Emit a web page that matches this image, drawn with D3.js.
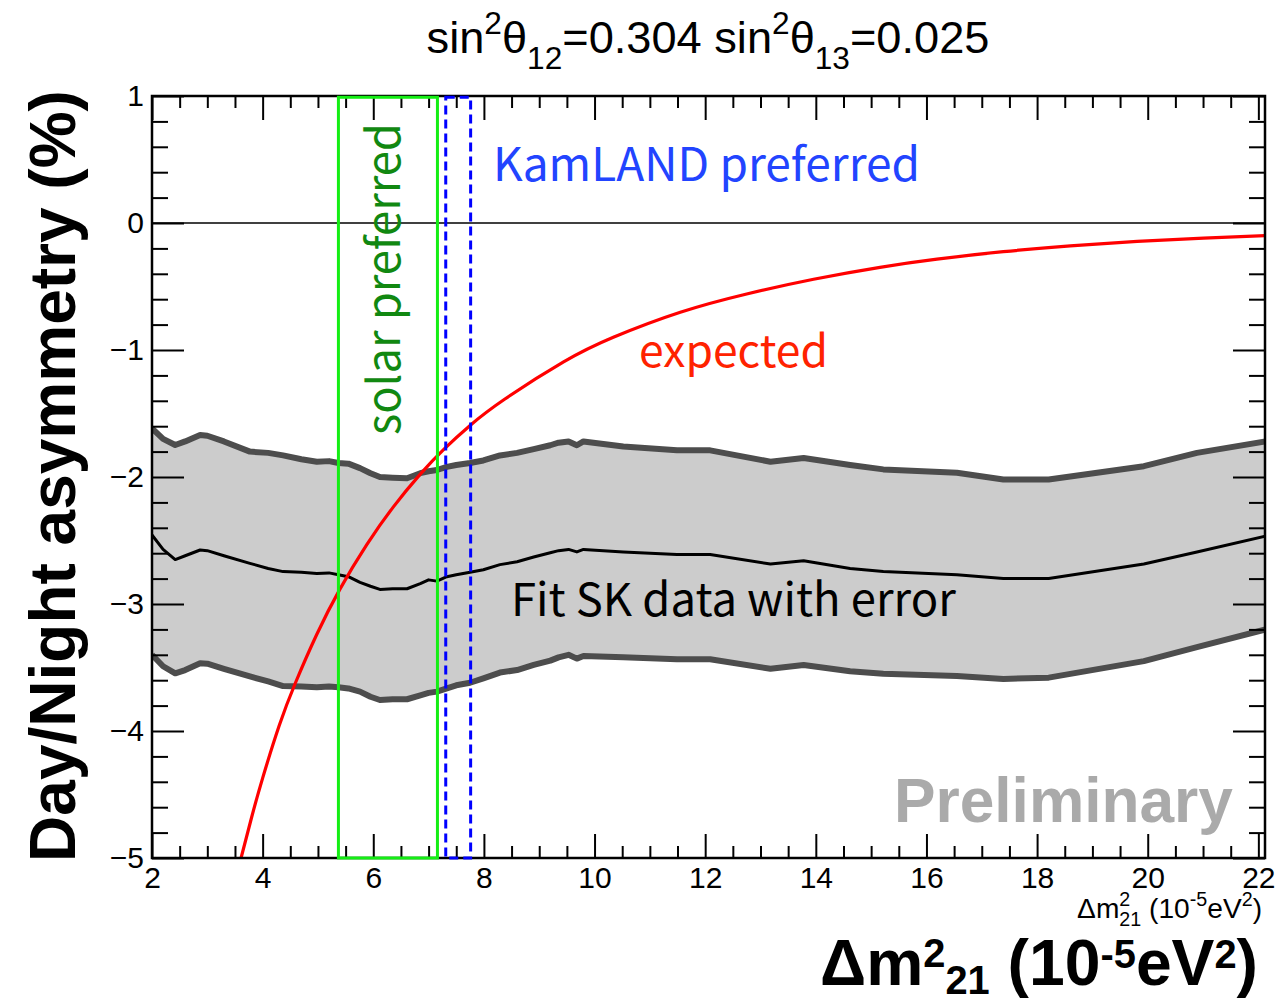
<!DOCTYPE html>
<html>
<head>
<meta charset="utf-8">
<script src="https://cdn.jsdelivr.net/npm/d3@7/dist/d3.min.js"></script>
<style>
  html, body { margin: 0; padding: 0; background: #fff; }
  svg { display: block; }
</style>
</head>
<body>
<svg id="chart" width="1283" height="1002"></svg>
<script>
// Δm²21 grid (10^-5 eV²) for the SK fitted day/night asymmetry band
const dm2 = [2.0, 2.2, 2.42, 2.6, 2.87, 3.0, 3.3, 3.77, 4.1, 4.37, 4.7, 4.98, 5.2, 5.37, 5.55, 5.76, 5.95,
  6.12, 6.35, 6.61, 6.85, 7.0, 7.15, 7.33, 7.5, 7.75, 7.99, 8.29, 8.6, 8.9, 9.2, 9.35, 9.53, 9.68, 9.8,
  10.52, 11.49, 12.09, 13.18, 13.78, 14.62, 15.22, 16.55, 17.39, 18.21, 19.93, 20.89, 22.13];
// fitted asymmetry (%) and its ±1σ band
const fitCentral = [-2.457, -2.57, -2.65, -2.62, -2.575, -2.58, -2.62, -2.68, -2.72, -2.745, -2.75, -2.76, -2.755,
  -2.77, -2.785, -2.83, -2.86, -2.885, -2.88, -2.88, -2.84, -2.81, -2.82, -2.785, -2.77, -2.75, -2.73, -2.69,
  -2.667, -2.63, -2.596, -2.58, -2.57, -2.59, -2.57, -2.59, -2.61, -2.61, -2.685, -2.66, -2.72, -2.745, -2.77,
  -2.80, -2.80, -2.685, -2.59, -2.465];
const fitUpper = [-1.617, -1.70, -1.748, -1.72, -1.669, -1.675, -1.72, -1.80, -1.81, -1.83, -1.86, -1.88, -1.875,
  -1.89, -1.895, -1.93, -1.97, -2.00, -2.005, -2.01, -1.97, -1.955, -1.945, -1.92, -1.905, -1.89, -1.87, -1.83,
  -1.81, -1.78, -1.75, -1.73, -1.72, -1.75, -1.72, -1.76, -1.79, -1.79, -1.88, -1.85, -1.905, -1.94, -1.966,
  -2.02, -2.02, -1.915, -1.81, -1.72];
const fitLower = [-3.40, -3.49, -3.546, -3.52, -3.467, -3.47, -3.51, -3.57, -3.61, -3.646, -3.65, -3.656, -3.65,
  -3.656, -3.665, -3.69, -3.73, -3.756, -3.75, -3.75, -3.72, -3.70, -3.69, -3.664, -3.64, -3.62, -3.585, -3.54,
  -3.52, -3.48, -3.446, -3.42, -3.40, -3.43, -3.41, -3.42, -3.435, -3.435, -3.51, -3.48, -3.53, -3.55, -3.567,
  -3.59, -3.58, -3.45, -3.34, -3.20];

// expected asymmetry (%) vs Δm²21
const expDm2 = [3.61, 3.8, 4.0, 4.3, 4.59, 4.98, 5.40, 5.88, 6.36, 6.85, 7.27, 7.75, 8.38, 9.44, 10.34,
  11.55, 12.75, 13.96, 15.16, 16.19, 17.39, 18.60, 19.81, 21.01, 22.13];
const expAsym = [-5.0, -4.681, -4.371, -3.957, -3.624, -3.238, -2.881, -2.535, -2.237, -1.977, -1.784, -1.594,
  -1.386, -1.094, -0.90, -0.703, -0.559, -0.443, -0.349, -0.285, -0.226, -0.18, -0.145, -0.119, -0.10];

// preferred Δm²21 ranges
const solarRange = [5.37, 7.16];
const kamlandRange = [7.31, 7.76];

// axis ticks
const xMajorTicks = [2, 4, 6, 8, 10, 12, 14, 16, 18, 20, 22];
const yMajorTicks = [-5, -4, -3, -2, -1, 0, 1];

const svg = d3.select("#chart");
const L = 152, R = 1265, T = 96, B = 858;
const x = d3.scaleLinear().domain([2, 22.12]).range([L, R]);
const y = d3.scaleLinear().domain([-5, 1]).range([B, T]);

const xMinorTicks = d3.range(2, 22.01, 0.5).filter(v => Math.abs(v % 2) > 1e-6);
const yMinorTicks = d3.range(-5, 1.001, 0.2).map(v => +v.toFixed(1)).filter(v => Math.abs(v - Math.round(v)) > 1e-6);

const sans = "'Liberation Sans', Arial, Helvetica, sans-serif";
const jp = "'Noto Sans CJK JP', 'Noto Sans', sans-serif";

svg.append("defs").append("clipPath").attr("id", "plotClip")
  .append("rect").attr("x", L).attr("y", T).attr("width", R - L).attr("height", B - T);

const plot = svg.append("g").attr("clip-path", "url(#plotClip)");

const band = dm2.map((d, i) => ({ x: d, hi: fitUpper[i], lo: fitLower[i], c: fitCentral[i] }));

// error band
plot.append("path").datum(band)
  .attr("d", d3.area().x(d => x(d.x)).y0(d => y(d.lo)).y1(d => y(d.hi)))
  .attr("fill", "#cccccc");
const edge = key => d3.line().x(d => x(d.x)).y(d => y(d[key]));
plot.append("path").datum(band).attr("d", edge("hi"))
  .attr("fill", "none").attr("stroke", "#4d4d4d").attr("stroke-width", 6).attr("stroke-linejoin", "round");
plot.append("path").datum(band).attr("d", edge("lo"))
  .attr("fill", "none").attr("stroke", "#4d4d4d").attr("stroke-width", 6).attr("stroke-linejoin", "round");
plot.append("path").datum(band).attr("d", edge("c"))
  .attr("fill", "none").attr("stroke", "#000").attr("stroke-width", 3).attr("stroke-linejoin", "round");

// zero line
svg.append("line").attr("x1", L).attr("x2", R).attr("y1", y(0)).attr("y2", y(0))
  .attr("stroke", "#000").attr("stroke-width", 1.6);

// expected curve
plot.append("path").datum(expDm2.map((d, i) => [d, expAsym[i]]))
  .attr("d", d3.line().curve(d3.curveNatural).x(d => x(d[0])).y(d => y(d[1])))
  .attr("fill", "none").attr("stroke", "#ff0000").attr("stroke-width", 3.2);

// frame
svg.append("rect").attr("x", L).attr("y", T).attr("width", R - L).attr("height", B - T)
  .attr("fill", "none").attr("stroke", "#000").attr("stroke-width", 2.5);

// axes (ROOT style: ticks inside the frame)
function styleAxis(g) {
  g.select(".domain").remove();
  g.selectAll(".tick line").attr("stroke", "#000").attr("stroke-width", 2);
  g.selectAll(".tick text").attr("font-family", sans).attr("font-size", 30).attr("fill", "#000");
}
svg.append("g").attr("transform", `translate(0,${B})`)
  .call(d3.axisBottom(x).tickValues(xMajorTicks).tickSize(-24).tickPadding(9).tickFormat(d3.format("d")))
  .call(styleAxis);
svg.append("g").attr("transform", `translate(0,${B})`)
  .call(d3.axisBottom(x).tickValues(xMinorTicks).tickSize(-12).tickFormat(""))
  .call(styleAxis);
svg.append("g").attr("transform", `translate(0,${T})`)
  .call(d3.axisTop(x).tickValues(xMajorTicks).tickSize(-24).tickFormat(""))
  .call(styleAxis);
svg.append("g").attr("transform", `translate(0,${T})`)
  .call(d3.axisTop(x).tickValues(xMinorTicks).tickSize(-12).tickFormat(""))
  .call(styleAxis);
svg.append("g").attr("transform", `translate(${L},0)`)
  .call(d3.axisLeft(y).tickValues(yMajorTicks).tickSize(-32).tickPadding(8).tickFormat(d3.format("d")))
  .call(styleAxis);
svg.append("g").attr("transform", `translate(${L},0)`)
  .call(d3.axisLeft(y).tickValues(yMinorTicks).tickSize(-16).tickFormat(""))
  .call(styleAxis);
svg.append("g").attr("transform", `translate(${R},0)`)
  .call(d3.axisRight(y).tickValues(yMajorTicks).tickSize(-32).tickFormat(""))
  .call(styleAxis);
svg.append("g").attr("transform", `translate(${R},0)`)
  .call(d3.axisRight(y).tickValues(yMinorTicks).tickSize(-16).tickFormat(""))
  .call(styleAxis);

// preferred regions
svg.append("rect")
  .attr("x", x(solarRange[0])).attr("width", x(solarRange[1]) - x(solarRange[0]))
  .attr("y", y(0.99)).attr("height", y(-5) - y(0.99))
  .attr("fill", "none").attr("stroke", "#14ee14").attr("stroke-width", 3);
svg.append("rect")
  .attr("x", x(kamlandRange[0])).attr("width", x(kamlandRange[1]) - x(kamlandRange[0]))
  .attr("y", y(0.99)).attr("height", y(-5) - y(0.99))
  .attr("fill", "none").attr("stroke", "#0000ff").attr("stroke-width", 3).attr("stroke-dasharray", "9,5");

// scale a text element's font so its advance width equals w
function fit(sel, w) {
  const len = sel.node().getComputedTextLength();
  const fs = parseFloat(sel.attr("font-size"));
  sel.attr("font-size", fs * w / len);
  return sel;
}

// labels inside the frame
fit(svg.append("text").attr("x", 493).attr("y", 181).attr("font-family", jp).attr("font-size", 40)
  .attr("fill", "#2244ff").text("KamLAND preferred"), 427);
fit(svg.append("text").attr("x", 639).attr("y", 367).attr("font-family", jp).attr("font-size", 40)
  .attr("fill", "#ff2200").text("expected"), 189);
fit(svg.append("text").attr("x", 511).attr("y", 616).attr("font-family", jp).attr("font-size", 40)
  .attr("fill", "#000").text("Fit SK data with error"), 445);
fit(svg.append("text").attr("transform", "translate(400,435) rotate(-90)").attr("font-family", jp)
  .attr("font-size", 44).attr("fill", "#118811").text("solar preferred"), 312);
fit(svg.append("text").attr("x", 894).attr("y", 822).attr("font-family", sans).attr("font-weight", "bold")
  .attr("font-size", 60).attr("fill", "#aaaaaa").text("Preliminary"), 339);

// title
const title = svg.append("text").attr("x", 708).attr("y", 53).attr("text-anchor", "middle")
  .attr("font-family", sans).attr("font-size", 40).attr("fill", "#000");
title.append("tspan").text("sin");
title.append("tspan").attr("font-size", "70%").attr("dy", "-0.6em").text("2");
title.append("tspan").attr("dy", "0.42em").text("θ");
title.append("tspan").attr("font-size", "70%").attr("dy", "0.5em").text("12");
title.append("tspan").attr("dy", "-0.35em").text("=0.304 sin");
title.append("tspan").attr("font-size", "70%").attr("dy", "-0.6em").text("2");
title.append("tspan").attr("dy", "0.42em").text("θ");
title.append("tspan").attr("font-size", "70%").attr("dy", "0.5em").text("13");
title.append("tspan").attr("dy", "-0.35em").text("=0.025");
fit(title, 563);

// y axis title
fit(svg.append("text").attr("transform", "translate(75,476) rotate(-90)").attr("text-anchor", "middle")
  .attr("font-family", sans).attr("font-weight", "bold").attr("font-size", 60).attr("fill", "#000")
  .text("Day/Night asymmetry (%)"), 772);

// small x axis title (stacked super/subscript)
const xs = svg.append("text").attr("x", 1262).attr("y", 918).attr("text-anchor", "end")
  .attr("font-family", sans).attr("font-size", 28).attr("fill", "#000");
xs.append("tspan").text("Δm");
xs.append("tspan").attr("font-size", "70%").attr("dy", "-0.6em").text("2");
xs.append("tspan").attr("font-size", "70%").attr("dx", "-0.556em").attr("dy", "1.0em").text("21");
xs.append("tspan").attr("dy", "-0.28em").text(" (10");
xs.append("tspan").attr("font-size", "70%").attr("dy", "-0.6em").text("-5");
xs.append("tspan").attr("dy", "0.42em").text("eV");
xs.append("tspan").attr("font-size", "70%").attr("dy", "-0.6em").text("2");
xs.append("tspan").attr("dy", "0.42em").text(")");
fit(xs, 196);

// large x axis title
const xb = svg.append("text").attr("x", 1258).attr("y", 985).attr("text-anchor", "end")
  .attr("font-family", sans).attr("font-weight", "bold").attr("font-size", 60).attr("fill", "#000");
xb.append("tspan").text("Δm");
xb.append("tspan").attr("font-size", "62%").attr("dy", "-0.44em").text("2");
xb.append("tspan").attr("font-size", "62%").attr("dy", "0.66em").text("21");
xb.append("tspan").attr("dy", "-0.136em").text(" (10");
xb.append("tspan").attr("font-size", "62%").attr("dy", "-0.44em").text("-5");
xb.append("tspan").attr("dy", "0.273em").text("eV");
xb.append("tspan").attr("font-size", "62%").attr("dy", "-0.44em").text("2");
xb.append("tspan").attr("dy", "0.273em").text(")");
fit(xb, 438);
</script>
</body>
</html>
